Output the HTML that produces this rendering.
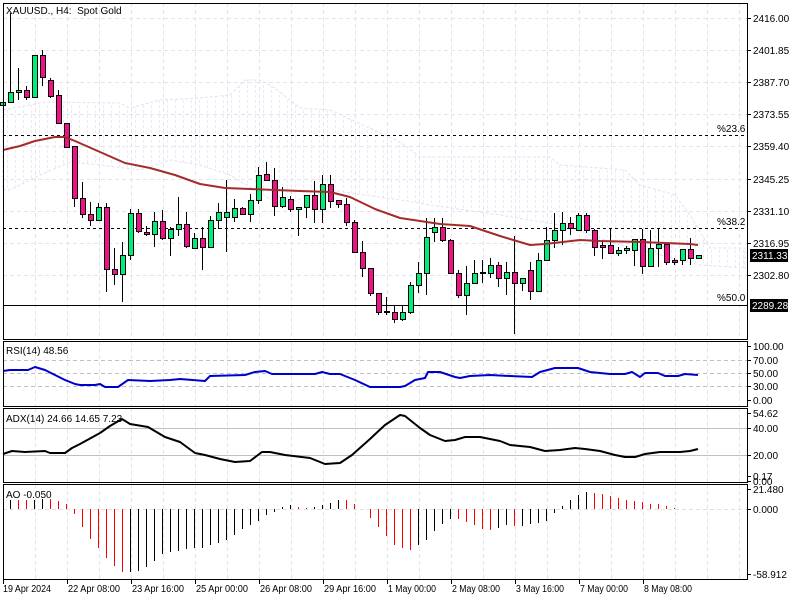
<!DOCTYPE html>
<html><head><meta charset="utf-8"><style>
body{margin:0;background:#fff;width:800px;height:600px;overflow:hidden}
svg{display:block;font-family:"Liberation Sans","DejaVu Sans",sans-serif;font-size:10px}
</style></head><body>
<svg id="s" width="800" height="600" xmlns="http://www.w3.org/2000/svg"></svg>
<script>
var s=document.getElementById('s'),h='';
function L(x1,y1,x2,y2,c,w,d){h+='<line x1="'+x1+'" y1="'+y1+'" x2="'+x2+'" y2="'+y2+'" stroke="'+c+'" stroke-width="'+(w||1)+'"'+(d?' stroke-dasharray="'+d+'"':'')+'/>';}
function T(x,y,t,a){h+='<text x="'+x+'" y="'+y+'"'+(a?' '+a:'')+'>'+t+'</text>';}
function P(pts,c,w){h+='<polyline fill="none" stroke="'+c+'" stroke-width="'+w+'" stroke-linejoin="round" points="'+pts+'"/>';}
var panels=[[3,339],[341,406],[408,482],[484,579]];
for(var x=35;x<747;x+=32){panels.forEach(function(p){L(x+.5,p[0],x+.5,p[1],'#e4e4ee',1,'4,3');});}
var py=[18,50,82,114,146,179,211,243,275];
py.forEach(function(y){L(3,y+.5,747,y+.5,'#e4e4ee',1,'4,3');});
// ichimoku cloud (faint outline + faint hatch)
var up='3,110 45,102 120,103 130,108 160,100 200,98 230,95 245,80 260,80 275,88 300,108 330,110 400,142 420,157 550,157 560,165 625,170 640,185 675,195 690,215 710,248 745,248';
var lo='745,268 700,265 660,255 620,245 560,225 500,215 430,205 400,200 330,190 280,205 230,175 200,165 170,160 140,170 100,165 70,162 40,175 10,190 3,190';
h+='<polygon fill="none" stroke="#e0e0f4" stroke-dasharray="3,2" points="'+up+' '+lo+'"/>';
h+='<defs><clipPath id="cl"><polygon points="'+up+' '+lo+'"/></clipPath></defs><g clip-path="url(#cl)">';
for(var x=7;x<747;x+=8)L(x+.5,70,x+.5,270,'#ebebf8',1,'3,2');
h+='</g>';
L(3,135.5,747,135.5,'#000',1,'3,3');L(3,228.5,747,228.5,'#000',1,'3,3');L(3,305.5,747,305.5,'#000',1);
T(717,132,'%23.6');T(717,225,'%38.2');T(717,301,'%50.0');
var C=[[102,105,102,105,'g'],[92,102,13,103,'g'],[90,92,68,100,'g'],[90,97,86,100,'p'],[55,97,55,97,'g'],[55,77,50,86,'p'],[80,96,78,98,'p'],[95,123,90,124,'p'],[123,147,123,147,'p'],[146,198,146,207,'p'],
[198,214,182,218,'p'],[214,220,202,226,'p'],[207,220,203,220,'g'],[207,269,203,292,'p'],[269,274,248,285,'p'],[255,274,242,302,'g'],[213,255,209,260,'g'],[213,231,209,233,'p'],[232,234,226,236,'p'],[221,234,212,247,'g'],
[221,238,210,240,'p'],[229,238,227,256,'g'],[224,229,197,236,'g'],[224,246,212,248,'p'],[238,248,233,248,'g'],[238,247,227,270,'p'],[220,247,216,248,'g'],[212,220,203,229,'g'],[212,217,180,252,'g'],[208,217,199,222,'g'],
[208,214,207,215,'p'],[200,214,194,222,'g'],[175,200,167,204,'g'],[174,180,162,180,'p'],[180,206,168,216,'p'],[197,206,187,208,'g'],[199,209,196,212,'p'],[207,209,207,236,'g'],[195,207,195,218,'g'],[195,209,181,223,'p'],
[184,209,175,223,'g'],[184,201,175,208,'p'],[200,204,200,208,'p'],[204,222,198,226,'p'],[222,252,220,253,'p'],[252,268,241,277,'p'],[268,293,268,296,'p'],[293,312,293,315,'p'],[311,312,297,315,'p'],[312,319,305,323,'p'],
[312,319,305,321,'g'],[285,312,282,314,'g'],[273,285,262,293,'g'],[237,273,218,295,'g'],[227,232,218,242,'g'],[227,240,218,242,'p'],[240,273,239,274,'p'],[273,295,270,298,'p'],[283,295,266,315,'g'],[273,283,260,284,'g'],
[272,273,260,283,'p'],[265,273,258,278,'g'],[265,278,262,287,'p'],[272,278,262,295,'g'],[272,283,236,334,'p'],[278,283,278,291,'g'],[270,291,262,300,'p'],[260,291,253,291,'g'],[240,260,227,249,'g'],[230,240,213,248,'g'],
[223,230,212,245,'g'],[223,228,217,235,'p'],[215,230,213,230,'g'],[215,230,213,233,'p'],[230,247,229,256,'p'],[245,247,240,259,'p'],[245,253,229,253,'p'],[250,253,247,256,'g'],[248,250,246,254,'g'],[239,250,239,266,'g'],
[239,266,229,274,'p'],[248,266,230,266,'g'],[244,248,229,267,'g'],[244,262,242,265,'p'],[260,262,258,265,'p'],[249,260,249,265,'g'],[249,258,238,265,'p'],[255,258,255,258,'g']];
C.forEach(function(c,i){var x=2+8*i;L(x+.5,c[2],x+.5,c[3],'#000',1);
 var ht=Math.max(c[1]-c[0],1);h+='<rect x="'+(x-2)+'.5" y="'+c[0]+'.5" width="5" height="'+ht+'" fill="'+(c[4]=='g'?'#00ee76':'#ee1188')+'" stroke="#000"/>';});
P('3,150 20,146 35,141 55,137 65,137 75,141 100,152 125,163 150,168 175,175 200,184 225,188 250,189 300,191 330,192 350,197 375,209 400,218 440,224 470,226 500,236 530,245 545,244 580,240 600,241 640,242 690,244 698,245','#a52a2a',2);
[360,373,386].forEach(function(y){L(3,y+.5,747,y+.5,'#c0c0c0',1,'4,3');});
P('3,371 10,370 28,370 35,367 45,370 55,375 65,380 75,384 80,385 95,385 100,384 105,387 118,387 128,380 150,381 170,380 180,379 205,381 210,376 245,375 255,372 265,371 272,374 290,374 315,374 322,372 330,374 340,374 355,380 370,387 400,387 405,386 415,380 425,378 428,372 440,372 455,377 460,378 470,376 490,375 510,376 532,377 540,372 555,368 578,368 590,372 610,374 625,374 632,372 640,377 645,373 658,373 665,376 678,376 685,374 698,375','#0000cd',2);
L(3,428.5,747,428.5,'#c0c0c0',1);L(3,455.5,747,455.5,'#c0c0c0',1);
P('3,454 12,451 25,452 45,451 50,453 65,453 72,448 80,444 100,433 110,426 122,419 130,424 148,427 165,437 180,442 195,453 205,455 220,459 235,462 250,461 262,452 270,452 285,455 310,458 325,464 340,463 352,455 370,439 385,425 400,415 405,416 420,428 430,435 445,441 455,440 465,437 480,437 500,441 510,445 530,447 545,451 560,450 575,448 585,449 600,451 615,455 625,457 635,457 645,454 660,452 680,452 690,451 698,449','#000',2);
L(3,509.5,747,509.5,'#e0e0e0',1,'4,3');
var A='b485 r485 r485 b485 b483 r483 r489 r497 r527 r567 r603 r630 r660 r683 r702 b702 b698 b688 b668 b648 b643 b638 b633 b630 b630 b621 b614 b605 b590 b573 b560 b549 b530 b522 b507 b500 r507 r511 b507 b500 b494 b486 r486 r497 n513 r540 r566 r593 r620 r630 r635 b622 b607 b580 b557 b543 r543 r551 r560 r573 r575 b570 b561 r563 b563 b558 b555 b548 b525 b503 b486 b470 b462 r465 r468 r474 r480 r486 r489 r492 r497 r497 r504 r511'.split(' ');
A.forEach(function(a,k){var i=k+1,x=2+8*i+.5,y=Math.round(338+(+a.slice(1))/3);if(a[0]=='n'||y==509)return;
 L(x,509,x,y,a[0]=='r'?'#ff0000':'#000',1);});
panels.forEach(function(p){h+='<rect x="3.5" y="'+(p[0]+.5)+'" width="744" height="'+(p[1]-p[0])+'" fill="none" stroke="#000"/>';});
T(6,14,'XAUUSD., H4:&#160; Spot Gold');T(6,354,'RSI(14) 48.56');T(6,422,'ADX(14) 24.66 14.65 7.23');T(6,498,'AO -0.050');
var pl=['2416.00','2401.85','2387.70','2373.55','2359.40','2345.25','2331.10','2316.95','2302.80'];
pl.forEach(function(t,i){L(747,py[i]+.5,751,py[i]+.5,'#000');T(753,py[i]+4,t);});
h+='<rect x="750" y="249" width="38" height="13" fill="#000"/>';T(752,259,'2311.33','fill="#fff"');
h+='<rect x="750" y="299" width="38" height="13" fill="#000"/>';T(752,309,'2289.28','fill="#fff"');
[[346,'100.00'],[360,'70.00'],[373,'50.00'],[386,'30.00'],[400,'0.00']].forEach(function(a){L(747,a[0]+.5,751,a[0]+.5,'#000');T(753,a[0]+4,a[1]);});
[[413,'54.62'],[428,'40.00'],[455,'20.00'],[476,'0.17'],[481,'0.00']].forEach(function(a){L(747,a[0]+.5,751,a[0]+.5,'#000');T(753,a[0]+4,a[1]);});
[[489,'21.480'],[509,'0.000'],[574,'-58.912']].forEach(function(a){L(747,a[0]+.5,751,a[0]+.5,'#000');T(753,a[0]+4,a[1]);});
var tl=['19 Apr 2024','22 Apr 08:00','23 Apr 16:00','25 Apr 00:00','26 Apr 08:00','29 Apr 16:00','1 May 00:00','2 May 08:00','3 May 16:00','7 May 00:00','8 May 08:00'];
tl.forEach(function(t,i){var x=3+64*i;L(x+.5,579,x+.5,584,'#000');T(x+(i?1:0),592,t,'textLength="'+(t.length>11?52:48)+'" lengthAdjust="spacingAndGlyphs"');});
s.innerHTML=h;
</script>
</body></html>
